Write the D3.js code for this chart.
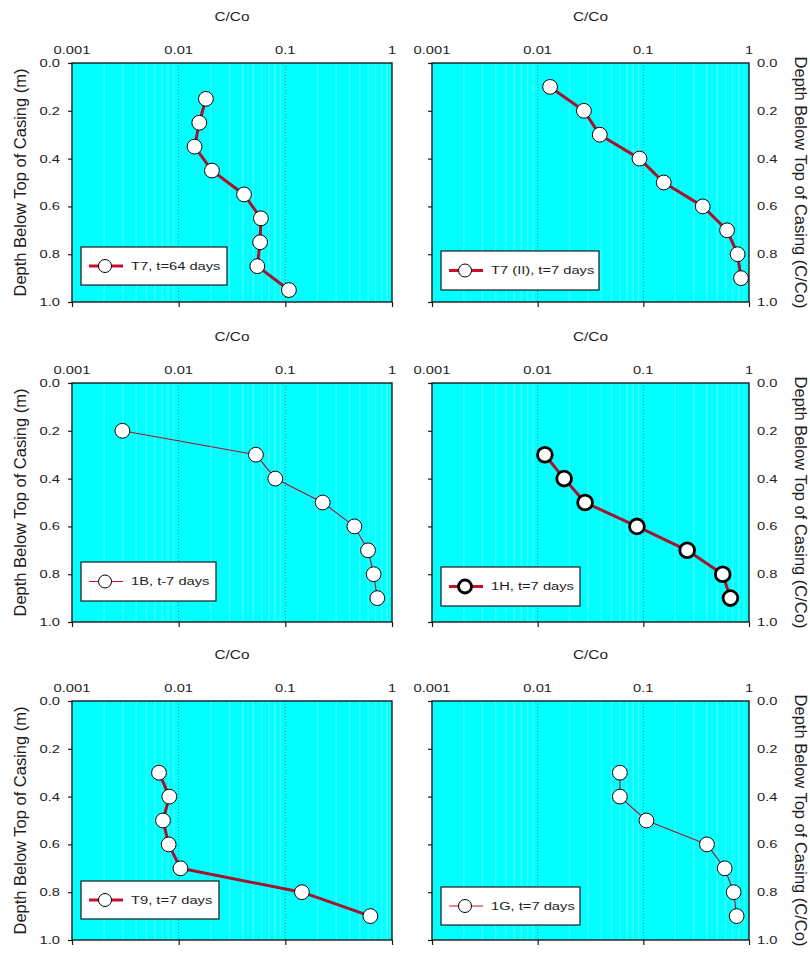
<!DOCTYPE html>
<html><head><meta charset="utf-8">
<script src="https://cdn.jsdelivr.net/npm/d3@7"></script>
<style>body{margin:0;background:#fff}svg text{font-family:"Liberation Sans",Arial,sans-serif;fill:#1e1e1e}</style>
</head><body>
<svg id="chart" width="810" height="953"></svg>
<script>
// Concentration profiles (C/Co) against depth below top of casing, six wells
const seriesLabels = ["T7, t=64 days", "T7 (II), t=7 days", "1B, t-7 days", "1H, t=7 days", "T9, t=7 days", "1G, t=7 days"];

const depthT7a = [0.15, 0.25, 0.35, 0.45, 0.55, 0.65, 0.75, 0.85, 0.95];
const concT7a  = [0.018, 0.0156, 0.0141, 0.0205, 0.041, 0.059, 0.058, 0.0546, 0.108];

const depthT7b = [0.1, 0.2, 0.3, 0.4, 0.5, 0.6, 0.7, 0.8, 0.9];
const concT7b  = [0.0131, 0.0274, 0.0387, 0.092, 0.156, 0.365, 0.62, 0.78, 0.84];

const depth1B = [0.2, 0.3, 0.4, 0.5, 0.6, 0.7, 0.8, 0.9];
const conc1B  = [0.00297, 0.053, 0.0805, 0.224, 0.444, 0.596, 0.673, 0.728];

const depth1H = [0.3, 0.4, 0.5, 0.6, 0.7, 0.8, 0.9];
const conc1H  = [0.0117, 0.0178, 0.0281, 0.087, 0.26, 0.564, 0.667];

const depthT9 = [0.3, 0.4, 0.5, 0.6, 0.7, 0.8, 0.9];
const concT9  = [0.00654, 0.00817, 0.00713, 0.00806, 0.0104, 0.143, 0.627];

const depth1G = [0.3, 0.4, 0.5, 0.6, 0.7, 0.8, 0.9];
const conc1G  = [0.060, 0.060, 0.107, 0.40, 0.589, 0.716, 0.764];

const xTickValues = [0.001, 0.01, 0.1, 1];
const xTickLabels = ["0.001", "0.01", "0.1", "1"];
const yTickValues = [0, 0.2, 0.4, 0.6, 0.8, 1.0];
const yTickLabels = ["0.0", "0.2", "0.4", "0.6", "0.8", "1.0"];
const xTitle = "C/Co";
const yTitleLeft = "Depth Below Top of Casing (m)";
const yTitleRight = "Depth Below Top of Casing (C/Co)";

const seriesData = [
  [depthT7a, concT7a], [depthT7b, concT7b], [depth1B, conc1B],
  [depth1H, conc1H], [depthT9, concT9], [depth1G, conc1G]
].map(([d, c], i) => ({label: seriesLabels[i], points: d.map((v, j) => ({depth: v, conc: c[j]}))}));

// panel frames and styling
const PH = 239;
const frames = [
  {x: 72,  y: 63,  w: 320, side: "left",  lw: 3,   mw: 1,   leg: {dy: 184, w: 146, h: 38}},
  {x: 432, y: 63,  w: 317, side: "right", lw: 3,   mw: 1,   leg: {dy: 188, w: 158, h: 39}},
  {x: 72,  y: 383, w: 320, side: "left",  lw: 1.1, mw: 1,   leg: {dy: 179, w: 135, h: 39}},
  {x: 432, y: 383, w: 317, side: "right", lw: 3,   mw: 2.8, leg: {dy: 184, w: 139, h: 39}},
  {x: 72,  y: 701, w: 320, side: "left",  lw: 3,   mw: 1,   leg: {dy: 180, w: 138, h: 38}},
  {x: 432, y: 701, w: 317, side: "right", lw: 1.1, mw: 1,   leg: {dy: 186, w: 139, h: 38}}
];

const SX = 1.28;          // horizontal text stretch
const lineColor = "#a3142e";
const svg = d3.select("#chart");

function stretchedText(g, x, y, str, size, anchor) {
  return g.append("text")
    .attr("transform", `translate(${x},${y}) scale(${SX},1)`)
    .attr("text-anchor", anchor)
    .attr("dominant-baseline", "central")
    .style("font-size", size + "px")
    .text(str);
}

frames.forEach((f, i) => {
  const s = seriesData[i];
  const g = svg.append("g").attr("transform", `translate(${f.x},${f.y})`);
  const x = d3.scaleLog().domain([0.001, 1]).range([0, f.w]);
  const y = d3.scaleLinear().domain([0, 1]).range([0, PH]);

  g.append("rect").attr("width", f.w).attr("height", PH).attr("fill", "#00ffff");

  // faint minor stripes within each decade
  const minors = [];
  [0.001, 0.01, 0.1].forEach(d => { for (let k = 2; k <= 9; k++) minors.push(d * k); });
  g.selectAll(".minor").data(minors).join("line")
    .attr("x1", d => x(d)).attr("x2", d => x(d)).attr("y1", 0).attr("y2", PH)
    .attr("stroke", "#b8ffff").attr("stroke-width", 1.5).attr("opacity", 0.3);

  // dotted decade grid
  g.selectAll(".major").data([0.01, 0.1]).join("line")
    .attr("x1", d => x(d)).attr("x2", d => x(d)).attr("y1", 0).attr("y2", PH)
    .attr("stroke", "#2b8c8c").attr("stroke-width", 1).attr("stroke-dasharray", "1,2");

  g.append("rect").attr("width", f.w).attr("height", PH)
    .attr("fill", "none").attr("stroke", "#1a1a1a").attr("stroke-width", 1.4);

  // tick marks
  const yAx = g.append("g").call(d3.axisLeft(y).tickValues(yTickValues).tickSize(4).tickFormat(""));
  const xAx = g.append("g").attr("transform", `translate(0,${PH})`)
    .call(d3.axisBottom(x).tickValues(xTickValues).tickSize(5).tickFormat(""));
  [yAx, xAx].forEach(a => {
    a.select(".domain").remove();
    a.selectAll("line").attr("stroke", "#1a1a1a").attr("stroke-width", 1.2);
  });

  // top tick labels and title
  xTickValues.forEach((v, j) => stretchedText(g, x(v), -13, xTickLabels[j], 11.5, "middle"));
  stretchedText(g, f.w / 2, -46, xTitle, 12, "middle");

  // depth labels
  yTickValues.forEach((v, j) => {
    if (f.side === "left") stretchedText(g, -12, y(v), yTickLabels[j], 11.5, "end");
    else stretchedText(g, f.w + 8, y(v), yTickLabels[j], 11.5, "start");
  });
  if (f.side === "left") {
    g.append("text").attr("transform", `translate(${-52},${PH / 2}) rotate(-90)`)
      .attr("text-anchor", "middle").attr("dominant-baseline", "central")
      .style("font-size", "16.5px").text(yTitleLeft);
  } else {
    g.append("text").attr("transform", `translate(${f.w + 52},${PH / 2}) rotate(90)`)
      .attr("text-anchor", "middle").attr("dominant-baseline", "central")
      .style("font-size", "16.5px").text(yTitleRight);
  }

  // profile line and markers
  const line = d3.line().x(d => x(d.conc)).y(d => y(d.depth));
  g.append("path").datum(s.points).attr("d", line)
    .attr("fill", "none").attr("stroke", lineColor).attr("stroke-width", f.lw)
    .attr("stroke-linejoin", "round");
  g.selectAll(".pt").data(s.points).join("circle")
    .attr("cx", d => x(d.conc)).attr("cy", d => y(d.depth)).attr("r", 7.4)
    .attr("fill", "#fff").attr("stroke", "#000").attr("stroke-width", f.mw);

  // legend
  const lg = g.append("g").attr("transform", `translate(9,${f.leg.dy})`);
  lg.append("rect").attr("width", f.leg.w).attr("height", f.leg.h)
    .attr("fill", "#fff").attr("stroke", "#1a1a1a").attr("stroke-width", 1.2);
  lg.append("line").attr("x1", 8).attr("x2", 42).attr("y1", f.leg.h / 2).attr("y2", f.leg.h / 2)
    .attr("stroke", "#c8102a").attr("stroke-width", f.lw);
  lg.append("circle").attr("cx", 24).attr("cy", f.leg.h / 2).attr("r", 6.5)
    .attr("fill", "#fff").attr("stroke", "#000").attr("stroke-width", f.mw);
  stretchedText(lg, 50, f.leg.h / 2, s.label, 11.5, "start");
});
</script>
</body></html>
